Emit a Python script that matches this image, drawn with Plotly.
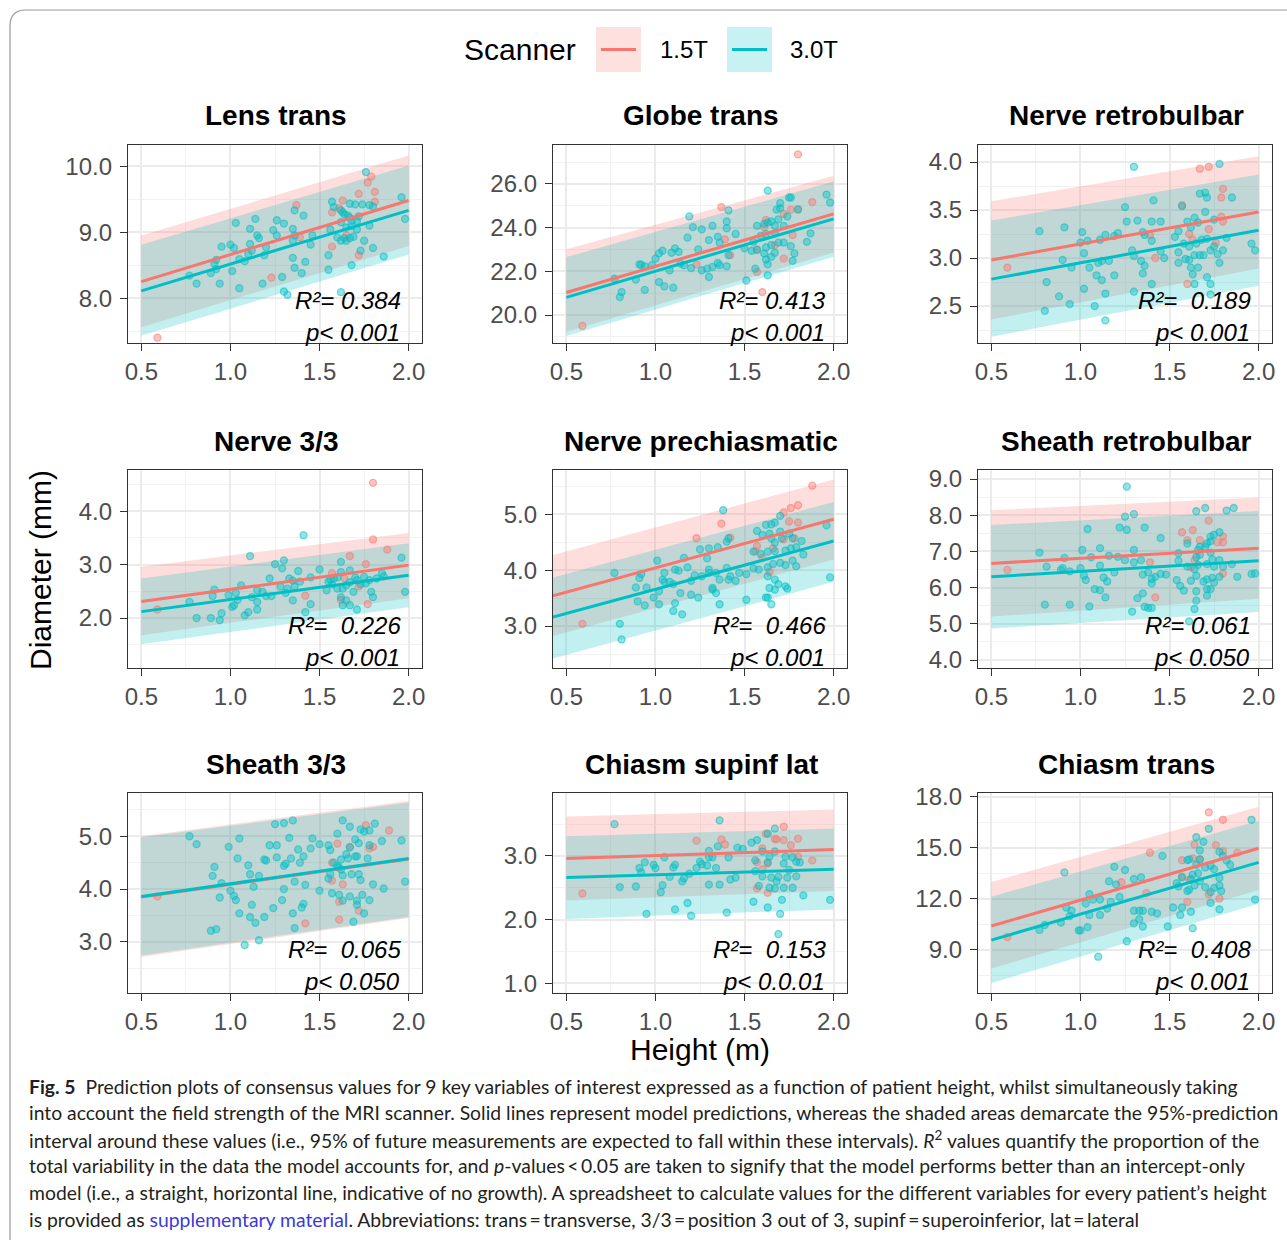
import plotly.graph_objects as go

W, H = 1287, 1240
PINK = "#F8766D"
TEAL = "#00BFC4"
FONT = "Liberation Sans, Arial, sans-serif"

# ---------------- data ----------------
titles = ["Lens trans", "Globe trans", "Nerve retrobulbar",
          "Nerve 3/3", "Nerve prechiasmatic", "Sheath retrobulbar",
          "Sheath 3/3", "Chiasm supinf lat", "Chiasm trans"]
r2_labels = ["0.384", "0.413", " 0.189", " 0.226", " 0.466", "0.061", " 0.065", " 0.153", " 0.408"]
p_labels = ["0.001", "0.001", "0.001", "0.001", "0.001", "0.050", "0.050", "0.0.01", "0.001"]
y_ranges = [[7.32, 10.32], [18.72, 27.78], [2.115, 4.177],
            [1.065, 4.77], [2.25, 5.79], [3.78, 9.25],
            [2.03, 5.82], [0.845, 3.99], [6.44, 18.23]]
y_dticks = [1, 2, 0.5, 1, 1, 1, 1, 1, 3]
x_ticks = [0.5, 1.0, 1.5, 2.0]
line_x_start = [0.5, 0.5, 0.5, 0.5, 0.425, 0.5, 0.5, 0.5, 0.5]
line_x_end = 2.0

# model fit and 95% prediction band: values at line start / line end
fit_15 = [[8.25, 9.48], [21.03, 24.63], [2.98, 3.48], [2.31, 2.99], [3.54, 4.91],
          [6.67, 7.09], [3.85, 4.57], [2.96, 3.10], [10.39, 14.97]]
fit_30 = [[8.11, 9.33], [20.81, 24.40], [2.78, 3.29], [2.12, 2.80], [3.16, 4.52],
          [6.30, 6.74], [3.86, 4.58], [2.66, 2.79], [9.56, 14.14]]
lo_15 = [[7.56, 8.79], [19.24, 22.86], [2.36, 2.89], [1.68, 2.37], [2.82, 4.19],
         [5.20, 5.69], [2.71, 3.45], [2.30, 2.45], [7.88, 12.51]]
hi_15 = [[8.95, 10.16], [23.01, 26.37], [3.59, 4.06], [2.96, 3.59], [4.27, 5.62],
         [8.14, 8.49], [5.00, 5.67], [3.62, 3.73], [12.99, 17.42]]
lo_30 = [[7.43, 8.66], [19.04, 22.67], [2.18, 2.71], [1.51, 2.20], [2.42, 3.79],
         [4.87, 5.33], [2.74, 3.47], [2.01, 2.16], [7.02, 11.70]]
hi_30 = [[8.81, 10.01], [22.65, 26.11], [3.39, 3.87], [2.74, 3.40], [3.87, 5.22],
         [7.73, 8.12], [4.98, 5.64], [3.31, 3.43], [12.12, 16.59]]

# observations (height m, diameter mm)
lens_15 = [(1.79,9.84),(1.77,9.75),(1.72,9.58),(1.81,9.61),(1.81,9.46),(1.63,9.48),(1.57,9.30),(1.61,9.36),
           (1.65,8.95),(1.57,8.78),(1.72,8.65),(1.37,9.41),(1.39,8.92),(1.23,8.31),(0.59,7.40)]
lens_30 = [(1.76,9.91),(1.96,9.53),(1.98,9.20),(1.86,8.63),(1.80,8.76),(1.75,8.87),(1.78,9.10),(1.78,9.41),
           (1.74,9.42),(1.70,9.42),(1.67,9.43),(1.80,9.39),(1.72,9.24),(1.71,9.17),(1.68,9.17),(1.67,9.22),
           (1.66,9.25),(1.64,9.27),(1.63,9.30),(1.62,9.33),(1.57,9.46),(1.58,9.38),(1.56,9.04),(1.62,9.15),
           (1.65,9.07),(1.68,9.09),(1.71,9.04),(1.69,8.93),(1.67,8.91),(1.65,8.87),(1.62,8.87),(1.60,8.92),
           (1.64,8.91),(1.55,8.65),(1.55,8.43),(1.68,8.50),(1.73,8.72),(1.46,8.95),(1.45,8.81),(1.42,8.55),
           (1.40,8.38),(1.41,9.25),(1.36,9.33),(1.36,8.95),(1.35,8.87),(1.35,8.61),(1.36,8.46),(1.35,9.05),
           (1.30,9.13),(1.26,9.18),(1.26,8.95),(1.24,9.03),(1.20,8.77),(1.19,8.65),(1.18,8.22),(1.29,8.32),
           (1.30,8.10),(1.32,8.05),(1.14,9.20),(1.11,9.05),(1.15,8.95),(1.16,8.91),(1.11,8.82),(1.12,8.72),
           (1.10,8.67),(1.08,8.56),(1.05,8.59),(1.05,8.15),(1.03,9.14),(1.02,8.76),(1.00,8.81),(1.01,8.41),
           (0.95,8.78),(0.92,8.58),(0.91,8.52),(0.92,8.44),(0.89,8.38),(0.94,8.22),(0.81,8.22),(0.77,8.34),
           (1.62,8.09)]
globe_15 = [(1.80,27.35),(1.37,24.94),(1.39,23.46),(1.42,22.74),(1.23,22.32),(1.76,24.82),(1.88,25.17),
            (1.80,24.85),(1.62,24.35),(1.61,24.02),(1.72,24.63),(1.77,23.66),(1.72,22.58),(1.57,22.97),
            (1.57,21.97),(1.60,21.05),(1.67,23.20),(0.59,19.50)]
globe_30 = [(1.63,25.69),(1.96,25.51),(1.98,25.15),(1.87,23.74),(1.85,23.35),(1.75,25.38),(1.76,25.38),
            (1.70,25.12),(1.68,24.82),(1.70,24.89),(1.80,24.82),(1.74,24.51),(1.69,24.38),(1.65,24.28),
            (1.63,24.23),(1.61,24.17),(1.57,24.08),(1.67,24.08),(1.72,24.08),(1.67,23.74),(1.62,23.71),
            (1.59,23.62),(1.55,23.35),(1.57,23.00),(1.62,23.09),(1.65,23.20),(1.69,23.31),(1.72,23.31),
            (1.76,23.15),(1.78,22.82),(1.67,22.85),(1.65,22.66),(1.62,22.54),(1.63,22.32),(1.61,22.82),
            (1.77,22.48),(1.56,22.12),(1.63,21.82),(1.51,21.58),(1.50,23.05),(1.54,22.94),(1.45,23.71),
            (1.40,23.97),(1.40,24.28),(1.41,24.79),(1.35,23.58),(1.36,23.31),(1.32,24.08),(1.30,23.43),
            (1.35,22.38),(1.36,22.28),(1.40,22.23),(1.41,22.74),(1.32,22.20),(1.30,21.74),(1.29,22.12),
            (1.26,23.92),(1.21,24.02),(1.24,23.00),(1.26,22.05),(1.20,22.15),(1.19,24.51),(1.18,23.54),
            (1.14,22.35),(1.16,22.28),(1.13,22.89),(1.11,23.05),(1.09,22.85),(1.08,22.05),(1.04,22.94),
            (1.02,22.82),(1.00,22.58),(1.02,21.51),(1.05,21.31),(1.10,21.25),(0.98,22.28),(0.94,22.23),
            (0.91,22.32),(0.92,22.30),(0.89,21.62),(0.94,21.15),(0.81,21.05),(0.80,20.82),(0.77,21.66)]
nretro_15 = [(1.67,3.93),(1.72,3.95),(1.80,3.72),(1.79,3.63),(1.57,3.55),(1.79,3.43),(1.80,3.38),(1.72,3.30),
             (1.61,3.25),(1.63,3.19),(1.39,3.24),(1.42,3.00),(1.76,3.16),(1.60,2.73),(0.59,2.90)]
nretro_30 = [(1.30,3.95),(1.78,3.98),(1.41,3.60),(1.25,3.53),(1.26,3.38),(1.32,3.39),(1.40,3.38),(1.45,3.38),
             (1.35,3.27),(1.36,3.24),(1.21,3.26),(1.19,3.23),(1.14,3.24),(1.11,3.19),(1.04,3.18),(1.01,3.27),
             (1.02,3.05),(1.00,3.16),(0.91,3.32),(0.77,3.28),(0.90,2.98),(0.95,2.90),(1.05,2.90),(1.10,2.95),
             (1.12,2.97),(1.16,2.97),(1.09,2.82),(1.12,2.77),(1.19,2.82),(1.29,3.08),(1.30,3.02),(1.34,2.97),
             (1.36,2.92),(1.35,2.84),(1.40,2.73),(1.40,3.18),(1.45,3.07),(1.47,3.00),(1.53,3.22),(1.55,3.28),
             (1.57,3.54),(1.60,3.38),(1.62,3.32),(1.64,3.42),(1.66,3.37),(1.67,3.67),(1.70,3.68),(1.71,3.63),
             (1.85,3.63),(1.75,3.40),(1.70,3.48),(1.58,3.15),(1.61,3.12),(1.65,3.15),(1.68,3.19),(1.71,3.20),
             (1.75,3.12),(1.77,3.04),(1.80,3.08),(1.82,3.21),(1.73,3.08),(1.69,3.03),(1.67,3.03),(1.64,3.03),
             (1.61,2.98),(1.59,2.99),(1.55,3.06),(1.55,2.95),(1.62,2.90),(1.66,2.90),(1.63,2.83),(1.64,2.73),
             (1.71,2.80),(1.73,2.73),(1.73,2.62),(1.78,2.95),(1.96,3.15),(1.98,3.08),(0.81,2.75),(0.88,2.60),
             (0.94,2.52),(0.80,2.45),(1.02,2.68),(1.08,2.50),(1.14,2.35),(1.14,2.63),(1.30,2.65)]
n33_15 = [(1.80,4.53),(1.80,3.47),(1.88,3.28),(1.67,3.16),(1.76,3.01),(1.57,2.84),(1.64,2.74),(1.42,2.42),
          (1.62,2.34),(1.72,2.59),(1.77,2.26),(0.59,2.16)]
n33_30 = [(1.41,3.55),(1.11,3.16),(1.25,3.01),(1.30,3.08),(1.29,2.93),(1.38,2.88),(1.50,2.91),(1.22,2.74),
          (1.33,2.74),(1.35,2.70),(1.39,2.68),(1.45,2.76),(1.28,2.59),(1.32,2.55),(1.36,2.59),(1.31,2.47),
          (1.23,2.41),(1.20,2.41),(1.18,2.49),(1.15,2.52),(1.12,2.39),(1.15,2.30),(1.10,2.11),(1.08,2.05),
          (1.15,2.16),(1.06,2.61),(1.03,2.47),(1.02,2.24),(0.99,2.43),(1.01,2.21),(1.04,2.34),(0.91,2.53),
          (0.90,2.41),(0.95,2.09),(0.94,1.96),(0.89,2.00),(0.81,2.00),(0.77,2.30),(1.35,2.33),(1.42,2.11),
          (1.45,2.26),(1.55,2.68),(1.58,2.74),(1.60,2.76),(1.62,3.05),(1.62,2.86),(1.67,2.89),(1.70,2.76),
          (1.71,2.71),(1.73,2.63),(1.67,2.67),(1.65,2.61),(1.63,2.55),(1.60,2.55),(1.57,2.63),(1.54,2.52),
          (1.62,2.39),(1.65,2.33),(1.67,2.24),(1.71,2.16),(1.69,2.49),(1.75,2.77),(1.76,2.65),(1.78,2.71),
          (1.82,2.74),(1.85,2.84),(1.86,2.78),(1.79,2.49),(1.80,2.39),(1.96,3.13),(1.98,2.49),(1.63,2.24),
          (1.56,2.72)]
npre_15 = [(1.88,5.51),(1.80,5.16),(1.76,5.11),(1.72,5.03),(1.75,4.87),(1.80,4.85),(1.72,4.55),(1.78,4.57),
           (1.42,4.58),(1.37,4.83),(1.23,4.57),(1.57,4.43),(1.56,4.34),(1.60,4.22),(1.66,4.39),(1.64,3.97),
           (0.59,3.04)]
npre_30 = [(1.38,5.07),(1.96,4.80),(1.98,3.87),(1.70,4.97),(1.67,4.85),(1.65,4.82),(1.62,4.81),(1.57,4.70),
           (1.60,4.63),(1.64,4.65),(1.65,4.57),(1.67,4.49),(1.70,4.69),(1.71,4.57),(1.75,4.65),(1.77,4.57),
           (1.82,4.52),(1.79,4.41),(1.76,4.39),(1.73,4.35),(1.67,4.34),(1.63,4.33),(1.59,4.29),(1.55,4.33),
           (1.83,4.28),(1.77,4.17),(1.79,4.07),(1.73,4.09),(1.70,4.13),(1.66,4.11),(1.63,4.05),(1.58,4.01),
           (1.55,4.03),(1.51,3.93),(1.63,3.89),(1.67,3.83),(1.69,3.75),(1.73,3.71),(1.74,3.67),(1.64,3.68),
           (1.67,3.65),(1.62,3.51),(1.63,3.51),(1.65,3.39),(1.51,3.47),(1.47,3.95),(1.40,4.04),(1.40,4.51),
           (1.41,4.57),(1.35,4.41),(1.30,4.39),(1.25,4.37),(1.29,4.21),(1.30,4.01),(1.30,3.95),(1.34,3.95),
           (1.36,3.83),(1.41,3.83),(1.45,3.81),(1.42,3.89),(1.26,3.89),(1.22,3.91),(1.20,3.81),(1.18,4.05),
           (1.16,4.22),(1.13,3.99),(1.11,4.01),(1.08,3.79),(1.10,3.75),(1.14,3.59),(1.11,3.41),(1.10,3.27),
           (1.15,3.21),(1.24,3.51),(1.20,3.56),(1.32,3.68),(1.32,3.65),(1.34,3.59),(1.36,3.39),(1.01,4.17),
           (1.05,3.95),(1.05,3.79),(1.04,3.83),(1.02,3.62),(0.99,3.51),(1.02,3.39),(0.95,3.69),(0.91,3.86),
           (0.92,3.93),(0.89,3.69),(0.90,3.44),(0.94,3.37),(0.77,3.95),(0.80,3.04),(0.81,2.76)]
sretro_15 = [(1.72,7.85),(1.57,7.53),(1.63,7.59),(1.60,7.31),(1.67,7.31),(1.80,7.41),(1.80,7.25),(1.77,7.25),
             (1.64,6.76),(1.62,6.56),(1.39,6.70),(1.42,5.73),(1.80,6.39),(0.59,6.49)]
sretro_30 = [(1.26,8.79),(1.25,7.96),(1.30,8.03),(1.26,7.60),(1.22,7.66),(1.04,7.62),(1.36,7.66),(1.45,7.37),
             (1.65,8.11),(1.70,8.20),(1.82,8.13),(1.86,8.20),(1.73,7.41),(1.75,7.46),(1.73,7.28),(1.70,7.13),
             (1.67,7.13),(1.66,7.04),(1.67,6.91),(1.65,6.84),(1.78,7.53),(1.71,7.22),(1.60,7.22),(1.55,6.95),
             (1.55,6.74),(1.60,6.58),(1.64,6.51),(1.66,6.63),(1.71,6.65),(1.75,6.58),(1.78,6.76),(1.80,6.58),
             (1.74,6.78),(1.73,6.97),(1.65,6.33),(1.62,6.19),(1.69,6.17),(1.71,6.23),(1.74,6.27),(1.75,6.14),
             (1.71,5.96),(1.73,5.96),(1.71,5.78),(1.78,6.30),(1.65,5.90),(1.65,5.64),(1.64,5.41),(1.61,5.07),
             (1.58,5.92),(1.56,6.05),(1.54,6.21),(1.48,6.36),(1.45,6.38),(1.42,6.30),(1.40,6.12),(1.40,6.24),
             (1.38,6.42),(1.35,6.36),(1.34,6.76),(1.30,7.04),(1.30,6.70),(1.25,6.76),(1.21,6.85),(1.19,6.42),
             (1.15,6.17),(1.13,6.28),(1.11,6.61),(1.11,7.09),(1.16,6.88),(1.11,5.93),(1.14,5.73),(1.08,5.96),
             (1.06,6.84),(1.01,7.04),(1.00,6.54),(1.02,6.33),(1.03,6.21),(1.05,5.48),(0.91,6.82),(0.90,6.54),
             (0.89,6.49),(0.94,6.45),(0.77,6.97),(0.81,6.58),(0.80,5.53),(0.94,5.53),(1.29,5.34),(1.32,5.71),
             (1.35,5.84),(1.36,5.47),(1.38,5.44),(1.40,5.44),(1.96,6.38),(1.98,6.39),(1.88,6.30),(1.85,6.65)]
s33_15 = [(1.76,5.21),(1.89,5.11),(1.78,4.77),(1.80,4.80),(1.67,4.80),(1.60,4.86),(1.57,4.50),(1.57,4.16),
          (1.63,4.09),(1.61,3.76),(1.72,3.59),(1.61,3.42),(1.42,3.35),(0.59,3.86)]
s33_30 = [(0.77,5.00),(0.81,4.85),(0.99,4.80),(1.05,4.96),(1.04,4.58),(1.10,4.45),(1.11,4.28),(1.16,4.25),
          (1.19,4.56),(1.20,4.54),(1.26,4.83),(1.22,4.83),(1.25,5.23),(1.30,5.25),(1.35,5.30),(1.33,4.97),
          (1.26,4.60),(1.31,4.48),(1.30,4.44),(1.34,4.58),(1.38,4.75),(1.41,4.62),(1.39,4.50),(1.46,4.96),
          (1.45,4.77),(1.50,4.85),(1.55,4.83),(1.56,4.74),(1.60,5.05),(1.63,5.30),(1.67,5.18),(1.70,4.94),
          (1.73,5.13),(1.75,5.09),(1.78,5.11),(1.81,5.24),(1.78,4.83),(1.72,4.87),(1.67,4.79),(1.65,4.66),
          (1.70,4.62),(1.71,4.62),(1.62,4.56),(1.66,4.58),(1.77,4.58),(1.85,4.91),(1.96,4.92),(1.98,4.14),
          (1.86,4.01),(1.80,4.09),(1.73,4.17),(1.72,4.28),(1.68,4.28),(1.63,4.26),(1.62,4.37),(1.61,4.41),
          (1.60,4.43),(1.58,4.50),(1.56,4.28),(1.55,4.20),(1.57,3.92),(1.61,3.89),(1.63,3.78),(1.67,3.86),
          (1.71,3.78),(1.71,3.70),(1.74,3.89),(1.78,3.79),(1.75,3.54),(1.69,3.38),(1.50,3.97),(1.42,4.08),
          (1.36,4.14),(1.41,3.72),(1.40,3.65),(1.35,3.54),(1.36,3.26),(1.30,4.00),(1.29,3.79),(1.24,3.64),
          (1.19,3.47),(1.14,3.36),(1.11,3.47),(1.12,3.70),(1.13,4.04),(1.05,3.54),(1.03,3.79),(1.00,3.97),
          (1.02,3.87),(0.94,3.84),(0.95,4.11),(0.91,4.42),(0.90,4.25),(0.89,3.21),(0.92,3.24),(1.08,2.94),
          (1.16,3.03)]
csup_15 = [(1.72,3.46),(1.62,3.35),(1.67,3.27),(1.72,3.25),(1.76,3.17),(1.80,3.27),(1.68,3.26),(1.37,3.26),
           (1.39,3.18),(1.23,3.24),(1.60,3.12),(1.80,2.99),(1.88,2.93),(1.57,2.90),(1.60,2.79),(1.63,2.88),
           (1.57,2.49),(1.63,2.42),(0.59,2.41)]
csup_30 = [(0.77,3.50),(1.36,3.56),(1.67,3.43),(1.63,3.35),(1.57,3.25),(1.54,3.21),(1.46,3.13),(1.49,3.11),
           (1.35,3.15),(1.30,3.08),(1.32,2.98),(1.30,2.98),(1.25,2.91),(1.26,2.87),(1.23,2.81),(1.29,2.85),
           (1.34,2.81),(1.41,2.98),(1.42,2.63),(1.45,2.66),(1.36,2.55),(1.30,2.55),(1.19,2.72),(1.15,2.60),
           (1.16,2.65),(1.10,2.82),(1.11,2.86),(1.08,2.67),(1.05,2.98),(1.04,2.54),(1.03,2.43),(1.00,2.81),
           (0.99,2.86),(0.94,2.90),(0.91,2.81),(0.92,2.74),(0.89,2.52),(0.80,2.51),(0.95,2.09),(1.11,2.16),
           (1.18,2.26),(1.20,2.06),(1.40,2.11),(1.55,2.28),(1.63,2.19),(1.71,2.31),(1.70,2.09),(1.83,2.38),
           (1.98,2.31),(1.69,1.77),(1.56,2.93),(1.56,2.76),(1.60,3.07),(1.63,2.90),(1.64,2.99),(1.67,3.07),
           (1.60,2.68),(1.65,2.66),(1.69,2.67),(1.68,2.60),(1.72,2.50),(1.64,2.50),(1.67,2.49),(1.58,2.53),
           (1.72,2.88),(1.73,2.99),(1.77,2.98),(1.79,2.91),(1.81,2.90),(1.75,2.78),(1.79,2.68),(1.77,2.50),
           (1.74,2.66)]
ctrans_15 = [(1.72,17.09),(1.80,16.65),(1.88,14.71),(1.76,15.16),(1.80,14.80),(1.64,15.19),(1.57,14.27),
             (1.63,14.38),(1.67,14.32),(1.61,13.11),(1.57,13.30),(1.39,14.71),(1.37,12.33),(1.23,12.97),
             (1.60,11.81),(1.72,12.26),(1.78,12.00),(0.59,9.74)]
ctrans_30 = [(1.96,16.65),(1.72,16.12),(1.65,15.62),(1.69,15.35),(1.67,14.85),(1.67,14.32),(1.65,14.00),
             (1.61,14.32),(1.60,14.27),(1.54,12.91),(1.46,14.52),(1.63,13.42),(1.62,13.16),(1.66,13.50),
             (1.70,13.84),(1.73,13.94),(1.75,13.74),(1.78,14.77),(1.80,14.52),(1.82,14.25),(1.84,14.00),
             (1.78,13.22),(1.78,12.78),(1.75,12.64),(1.73,12.39),(1.70,12.68),(1.67,13.03),(1.64,12.78),
             (1.61,12.53),(1.60,12.45),(1.57,13.26),(1.55,12.72),(1.79,12.45),(1.73,11.75),(1.78,11.37),
             (1.98,11.95),(1.62,11.23),(1.57,11.48),(1.56,11.04),(1.52,11.48),(1.63,10.26),(1.49,10.36),
             (1.43,11.13),(1.40,11.23),(1.34,13.26),(1.30,13.16),(1.25,13.69),(1.19,13.88),(1.20,12.84),
             (1.16,13.03),(1.22,12.10),(1.17,11.81),(1.15,11.42),(1.11,11.95),(1.07,11.95),(1.05,12.26),
             (1.03,11.71),(1.05,11.04),(1.11,11.04),(1.10,8.58),(1.26,9.49),(1.30,10.55),(1.30,11.29),
             (1.33,11.29),(1.35,11.29),(1.33,10.79),(1.35,10.36),(0.91,13.55),(0.92,11.48),(0.95,11.29),
             (0.94,10.98),(0.89,10.59),(0.99,10.13),(1.00,10.13),(1.04,10.32),(0.77,10.16),(0.80,10.45)]

points_15 = [lens_15, globe_15, nretro_15, n33_15, npre_15, sretro_15, s33_15, csup_15, ctrans_15]
points_30 = [lens_30, globe_30, nretro_30, n33_30, npre_30, sretro_30, s33_30, csup_30, ctrans_30]

caption_lines = [
    "<b>Fig. 5</b>  Prediction plots of consensus values for 9 key variables of interest expressed as a function of patient height, whilst simultaneously taking",
    "into account the field strength of the MRI scanner. Solid lines represent model predictions, whereas the shaded areas demarcate the 95%-prediction",
    "interval around these values (i.e., 95% of future measurements are expected to fall within these intervals). <i>R</i><sup>2</sup> values quantify the proportion of the",
    "total variability in the data the model accounts for, and <i>p</i>-values\u2009&lt;\u20090.05 are taken to signify that the model performs better than an intercept-only",
    "model (i.e., a straight, horizontal line, indicative of no growth). A spreadsheet to calculate values for the different variables for every patient\u2019s height",
    "is provided as <span style='color:#3a3ad8'>supplementary material</span>. Abbreviations: trans\u2009=\u2009transverse, 3/3\u2009=\u2009position 3 out of 3, supinf\u2009=\u2009superoinferior, lat\u2009=\u2009lateral",
]

# ---------------- layout geometry (pixels) ----------------
col_px = [(128, 422), (553, 847), (978, 1272)]
row_px = [(145, 343), (470, 668), (793, 993)]


def px(x):
    return x / W


def py(y):
    return 1 - y / H


def rgba(hexc, a):
    h = hexc.lstrip("#")
    return "rgba(%d,%d,%d,%.3f)" % (int(h[0:2], 16), int(h[2:4], 16), int(h[4:6], 16), a)


fig = go.Figure()
annotations = []
layout_axes = {}

for i in range(9):
    r, c = divmod(i, 3)
    sfx = "" if i == 0 else str(i + 1)
    xa, ya = "x" + sfx, "y" + sfx
    x0p, x1p = col_px[c]
    y0p, y1p = row_px[r]
    xs = [line_x_start[i], line_x_end]

    # prediction bands
    for lo, hi, col in ((lo_15[i], hi_15[i], PINK), (lo_30[i], hi_30[i], TEAL)):
        fig.add_trace(go.Scatter(
            x=[xs[0], xs[1], xs[1], xs[0]], y=[lo[0], lo[1], hi[1], hi[0]],
            fill="toself", fillcolor=rgba(col, 0.24), line=dict(width=0),
            mode="lines", hoverinfo="skip", showlegend=False, xaxis=xa, yaxis=ya))
    # observations
    for pts, col in ((points_15[i], PINK), (points_30[i], TEAL)):
        fig.add_trace(go.Scatter(
            x=[p[0] for p in pts], y=[p[1] for p in pts], mode="markers",
            marker=dict(size=7, color=rgba(col, 0.42), line=dict(color=rgba(col, 0.55), width=1.3)),
            showlegend=False, xaxis=xa, yaxis=ya))
    # model predictions
    for fit, col in ((fit_15[i], PINK), (fit_30[i], TEAL)):
        fig.add_trace(go.Scatter(
            x=xs, y=fit, mode="lines", line=dict(color=col, width=3),
            showlegend=False, xaxis=xa, yaxis=ya))

    common = dict(
        showline=True, mirror=True, linecolor="#333333", linewidth=1.4,
        ticks="outside", ticklen=7, tickwidth=1.3, tickcolor="#333333",
        tickfont=dict(family=FONT, size=24, color="#4D4D4D"),
        showgrid=True, gridcolor="#EBEBEB", gridwidth=1.6, zeroline=False,
        tickformat=".1f", automargin=False,
    )
    layout_axes["xaxis" + sfx] = dict(
        common, domain=[px(x0p), px(x1p)], anchor=ya, range=[0.425, 2.075],
        tickmode="array", tickvals=x_ticks,
        minor=dict(tickmode="array", tickvals=[0.75, 1.25, 1.75], showgrid=True,
                   gridcolor="#F2F2F2", gridwidth=1, ticks=""))
    layout_axes["yaxis" + sfx] = dict(
        common, domain=[py(y1p), py(y0p)], anchor=xa, range=y_ranges[i],
        tick0=0, dtick=y_dticks[i], ticklabelstandoff=3,
        minor=dict(tick0=0, dtick=y_dticks[i] / 2, showgrid=True,
                   gridcolor="#F2F2F2", gridwidth=1, ticks=""))

    # panel title
    annotations.append(dict(
        text="<b>%s</b>" % titles[i], x=px((x0p + x1p) / 2 + 1), y=py(y0p - 29),
        xref="paper", yref="paper", xanchor="center", yanchor="middle", showarrow=False,
        font=dict(family=FONT, size=28, color="black")))
    # statistics
    annotations.append(dict(
        text="<i>R\u00b2= %s</i>" % r2_labels[i], x=0.936, y=(343 - 300) / 198,
        xref=xa + " domain", yref=ya + " domain", xanchor="right", yanchor="middle",
        showarrow=False, font=dict(family=FONT, size=24, color="black")))
    annotations.append(dict(
        text="<i>p&lt; %s</i>" % p_labels[i], x=0.933, y=(343 - 332) / 198,
        xref=xa + " domain", yref=ya + " domain", xanchor="right", yanchor="middle",
        showarrow=False, font=dict(family=FONT, size=24, color="black")))

# axis titles
annotations.append(dict(text="Diameter (mm)", x=px(40), y=py(570), xref="paper", yref="paper",
                        textangle=-90, showarrow=False, xanchor="center", yanchor="middle",
                        font=dict(family=FONT, size=30, color="black")))
annotations.append(dict(text="Height (m)", x=px(700), y=py(1049), xref="paper", yref="paper",
                        showarrow=False, xanchor="center", yanchor="middle",
                        font=dict(family=FONT, size=30, color="black")))

# legend (drawn manually to match ggplot keys)
shapes = []
annotations.append(dict(text="Scanner", x=px(462), y=py(50), xref="paper", yref="paper",
                        showarrow=False, xanchor="left", yanchor="middle",
                        font=dict(family=FONT, size=30, color="black")))
for (bx, lab, lx, col) in ((596, "1.5T", 658, PINK), (727, "3.0T", 788, TEAL)):
    shapes.append(dict(type="rect", xref="paper", yref="paper", x0=px(bx), x1=px(bx + 45),
                       y0=py(72), y1=py(27), fillcolor=rgba(col, 0.22), line=dict(width=0)))
    shapes.append(dict(type="line", xref="paper", yref="paper", x0=px(bx + 5), x1=px(bx + 40),
                       y0=py(49.5), y1=py(49.5), line=dict(color=col, width=3)))
    annotations.append(dict(text=lab, x=px(lx), y=py(50), xref="paper", yref="paper",
                            showarrow=False, xanchor="left", yanchor="middle",
                            font=dict(family=FONT, size=24, color="black")))

# caption
cap_y = [1086, 1112, 1139, 1165, 1192, 1219]
for t, yy in zip(caption_lines, cap_y):
    annotations.append(dict(text=t, x=px(27), y=py(yy), xref="paper", yref="paper",
                            showarrow=False, xanchor="left", yanchor="middle",
                            font=dict(family="Lato, Noto Sans, sans-serif", size=19.35, color="#231F20")))

# outer figure frame (rounded top-left corner)
shapes.append(dict(type="path", xref="paper", yref="paper",
                   path="M %f,%f L %f,%f Q %f,%f %f,%f L %f,%f" % (
                       px(10), py(1240), px(10), py(26), px(10), py(10), px(26), py(10), px(1287), py(10)),
                   line=dict(color="#9A9A9A", width=1.2)))

fig.update_layout(
    width=W, height=H, autosize=False,
    margin=dict(l=0, r=0, t=0, b=0, pad=0, autoexpand=False),
    paper_bgcolor="white", plot_bgcolor="white", showlegend=False,
    annotations=annotations, shapes=shapes, **layout_axes)

fig.write_html("out.html", config={"displayModeBar": False},
               post_script="document.body.style.margin='0px';document.body.style.overflow='hidden';")
